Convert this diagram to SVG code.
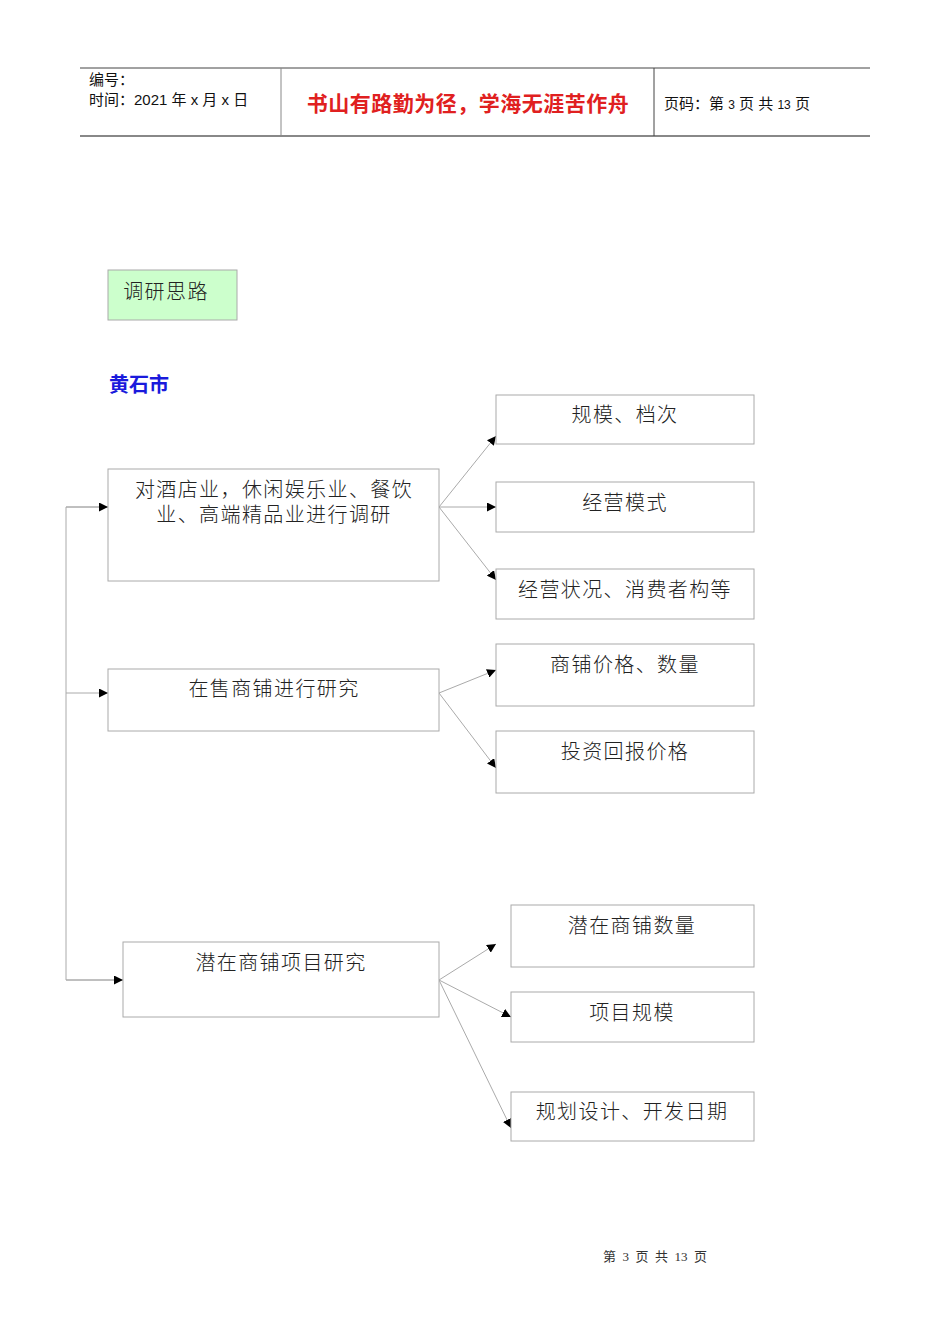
<svg xmlns="http://www.w3.org/2000/svg" width="950" height="1344" viewBox="0 0 950 1344">
<defs>
<marker id="ah" viewBox="0 0 10 10" refX="10" refY="5" markerWidth="9" markerHeight="9" markerUnits="userSpaceOnUse" orient="auto"><path d="M0,0L10,5L0,10z" fill="#000"/></marker>
<style>
.b{fill:#fff;stroke:#aaa;stroke-width:1}
.t{font-family:"Liberation Serif","Noto Sans CJK SC",serif;font-size:20px;fill:#222;text-anchor:middle;letter-spacing:1.4px;font-weight:300}
.h{font-family:"Liberation Sans","Noto Sans CJK SC",sans-serif;font-size:15px;fill:#111}
.c{fill:none;stroke:#aaa;stroke-width:1;marker-end:url(#ah)}
</style>
</defs>
<rect width="950" height="1344" fill="#fff"/>
<g id="header">
<line x1="80" y1="68" x2="870" y2="68" stroke="#444"/>
<line x1="80" y1="136" x2="870" y2="136" stroke="#888" stroke-width="2"/>
<line x1="281" y1="68" x2="281" y2="136" stroke="#888"/>
<line x1="654" y1="68" x2="654" y2="136" stroke="#444"/>
<text class="h" x="89" y="85">编号：</text>
<text class="h" x="89" y="105">时间：2021 年 x 月 x 日</text>
<text x="468" y="111" font-family="Liberation Sans,Noto Sans CJK SC,sans-serif" font-size="21" font-weight="bold" fill="#e02020" text-anchor="middle" letter-spacing="0.5">书山有路勤为径，学海无涯苦作舟</text>
<text class="h" x="664" y="109">页码：第 <tspan font-size="12">3</tspan> 页  共 <tspan font-size="12">13</tspan> 页</text>
</g>
<g id="title"><rect x="108" y="270" width="129" height="50" fill="#ccffcc" stroke="#aaa"/><text class="t" x="166" y="299">调研思路</text></g>
<text x="109" y="392" font-family="Liberation Sans,Noto Sans CJK SC,sans-serif" font-size="20" font-weight="bold" fill="#1a1adc">黄石市</text>
<g id="connectors">
<path d="M108,507H66V980H123" fill="none" stroke="#aaa"/>
<path class="c" d="M66,507H108"/>
<path class="c" d="M66,693H108"/>
<path class="c" d="M66,980H123"/>
<path class="c" d="M439,507L496,436"/>
<path class="c" d="M439,507L496,507"/>
<path class="c" d="M439,507L496,580"/>
<path class="c" d="M439,693L496,670"/>
<path class="c" d="M439,693L496,768"/>
<path class="c" d="M439,980L496,944"/>
<path class="c" d="M439,980L511,1017"/>
<path class="c" d="M439,980L511,1128"/>
</g>
<g id="n1"><rect class="b" x="108" y="469" width="331" height="112"/><text class="t" x="274" y="497">对酒店业，休闲娱乐业、餐饮</text><text class="t" x="274" y="522">业、高端精品业进行调研</text></g>
<g id="n2"><rect class="b" x="108" y="669" width="331" height="62"/><text class="t" x="274" y="696">在售商铺进行研究</text></g>
<g id="n3"><rect class="b" x="123" y="942" width="316" height="75"/><text class="t" x="281" y="970">潜在商铺项目研究</text></g>
<g id="a1"><rect class="b" x="496" y="395" width="258" height="49"/><text class="t" x="625" y="422">规模、档次</text></g>
<g id="a2"><rect class="b" x="496" y="482" width="258" height="50"/><text class="t" x="625" y="510">经营模式</text></g>
<g id="a3"><rect class="b" x="496" y="569" width="258" height="50"/><text class="t" x="625" y="597">经营状况、消费者构等</text></g>
<g id="b1"><rect class="b" x="496" y="644" width="258" height="62"/><text class="t" x="625" y="672">商铺价格、数量</text></g>
<g id="b2"><rect class="b" x="496" y="731" width="258" height="62"/><text class="t" x="625" y="759">投资回报价格</text></g>
<g id="c1"><rect class="b" x="511" y="905" width="243" height="62"/><text class="t" x="632" y="933">潜在商铺数量</text></g>
<g id="c2"><rect class="b" x="511" y="992" width="243" height="50"/><text class="t" x="632" y="1020">项目规模</text></g>
<g id="c3"><rect class="b" x="511" y="1092" width="243" height="49"/><text class="t" x="632" y="1119">规划设计、开发日期</text></g>
<text x="655" y="1261" font-family="Liberation Serif,Noto Sans CJK SC,serif" font-size="13" fill="#333" text-anchor="middle" xml:space="preserve">第  3  页  共  13  页</text>
</svg>
